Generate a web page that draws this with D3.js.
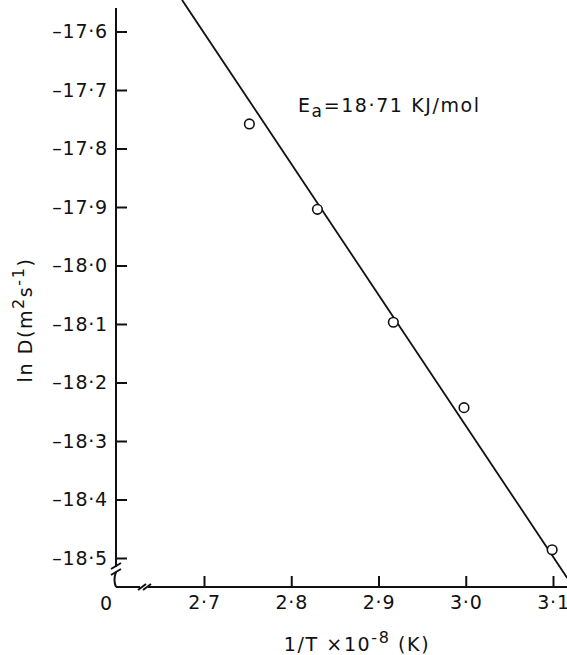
<!DOCTYPE html>
<html lang="en">
<head>
  <meta charset="UTF-8">
  <title>ln D vs 1/T</title>
  <script src="https://d3js.org/d3.v7.min.js"></script>
  <style>
    body { margin: 0; background: #fff; }
    svg { display: block; background: #fff; }
    text {
      font-family: "DejaVu Sans", sans-serif;
      font-size: 19px;
      fill: #111;
    }
    .tick text { letter-spacing: 0.8px; }
    .title { letter-spacing: 1.6px; }
  </style>
</head>
<body>
  <svg></svg>
  <script>

    // data
    const invT = [2.752, 2.830, 2.917, 2.998, 3.099];
    const lnD = [-17.758, -17.904, -18.097, -18.243, -18.486];

    // fitted line end points
    const fitX = [2.6748, 3.1163];
    const fitY = [-17.546, -18.534];

    const xTicks = [2.7, 2.8, 2.9, 3.0, 3.1];
    const yTicks = [-17.6, -17.7, -17.8, -17.9, -18.0, -18.1, -18.2, -18.3, -18.4, -18.5];

    const W = 567, H = 655;
    const axisX = 116;   // position of the y axis
    const axisY = 587;   // position of the x axis

    const svg = d3.select('svg')
      .attr('width', W)
      .attr('height', H);

    const x = d3.scaleLinear().domain([2.7, 3.1]).range([204, 553]);
    const y = d3.scaleLinear().domain([-17.6, -18.5]).range([31.5, 558]);

    const fmt = d => d3.format('.1f')(d).replace('−', '–').replace('.', '·');

    // y axis ticks (pointing inwards)
    const yAxis = d3.axisLeft(y)
      .tickValues(yTicks)
      .tickFormat(fmt)
      .tickSizeInner(-11)
      .tickSizeOuter(0)
      .tickPadding(8);

    const gy = svg.append('g')
      .attr('transform', `translate(${axisX},0)`)
      .call(yAxis);
    gy.select('.domain').remove();
    gy.selectAll('.tick line').attr('stroke', '#111').attr('stroke-width', 2);
    gy.selectAll('.tick text').attr('font-size', 20).attr('fill', '#111');

    // x axis ticks
    const xAxis = d3.axisBottom(x)
      .tickValues(xTicks)
      .tickFormat(fmt)
      .tickSizeInner(-11)
      .tickSizeOuter(0)
      .tickPadding(9);

    const gx = svg.append('g')
      .attr('transform', `translate(0,${axisY})`)
      .call(xAxis);
    gx.select('.domain').remove();
    gx.selectAll('.tick line').attr('stroke', '#111').attr('stroke-width', 2);
    gx.selectAll('.tick text').attr('font-size', 20).attr('fill', '#111');

    // axis lines with breaks
    const ax = svg.append('g')
      .attr('stroke', '#111')
      .attr('stroke-width', 2)
      .attr('fill', 'none');

    ax.append('line').attr('x1', axisX).attr('y1', 8).attr('x2', axisX).attr('y2', 567);
    ax.append('line').attr('x1', axisX - 5).attr('y1', 569).attr('x2', axisX + 5).attr('y2', 563);
    ax.append('line').attr('x1', axisX - 5).attr('y1', 575).attr('x2', axisX + 5).attr('y2', 569);
    ax.append('path').attr('d', `M${axisX},572 Q${axisX - 3},580 ${axisX},${axisY}`);

    ax.append('line').attr('x1', axisX).attr('y1', axisY).attr('x2', 140).attr('y2', axisY);
    ax.append('line').attr('x1', 138).attr('y1', axisY + 3).attr('x2', 146).attr('y2', axisY - 3);
    ax.append('line').attr('x1', 143).attr('y1', axisY + 3).attr('x2', 151).attr('y2', axisY - 3);
    ax.append('line').attr('x1', 148).attr('y1', axisY).attr('x2', W).attr('y2', axisY);

    svg.append('text')
      .attr('x', 106)
      .attr('y', 610)
      .attr('font-size', 20)
      .attr('text-anchor', 'middle')
      .text('0');

    // fitted line
    const fit = fitX.map((d, i) => ({ x: d, y: fitY[i] }));
    svg.append('path')
      .datum(fit)
      .attr('fill', 'none')
      .attr('stroke', '#111')
      .attr('stroke-width', 1.8)
      .attr('d', d3.line().x(d => x(d.x)).y(d => y(d.y)));

    // data points
    svg.selectAll('circle.pt')
      .data(invT)
      .enter()
      .append('circle')
      .attr('class', 'pt')
      .attr('cx', d => x(d))
      .attr('cy', (d, i) => y(lnD[i]))
      .attr('r', 4.8)
      .attr('fill', '#fff')
      .attr('stroke', '#111')
      .attr('stroke-width', 1.6);

    // annotation
    const ea = svg.append('text')
      .attr('class', 'title')
      .attr('x', 298)
      .attr('y', 112)
      .attr('font-size', 21);
    ea.append('tspan').text('E');
    ea.append('tspan').attr('dy', 5).attr('font-size', 17).text('a');
    ea.append('tspan').attr('dy', -5).text('=18·71 KJ/mol');

    // axis titles
    const xl = svg.append('text')
      .attr('class', 'title')
      .attr('x', 357)
      .attr('y', 651)
      .attr('text-anchor', 'middle')
      .attr('font-size', 20);
    xl.append('tspan').text('1/T  ×10');
    xl.append('tspan').attr('dy', -8).attr('font-size', 16).text('-8');
    xl.append('tspan').attr('dy', 8).text(' (K)');

    const yl = svg.append('text')
      .attr('class', 'title')
      .attr('transform', 'translate(32,320) rotate(-90)')
      .attr('text-anchor', 'middle')
      .attr('font-size', 21);
    yl.append('tspan').text('ln D(m');
    yl.append('tspan').attr('dy', -8).attr('font-size', 16).text('2');
    yl.append('tspan').attr('dy', 8).text('s');
    yl.append('tspan').attr('dy', -8).attr('font-size', 16).text('-1');
    yl.append('tspan').attr('dy', 8).text(')');

  </script>
</body>
</html>
